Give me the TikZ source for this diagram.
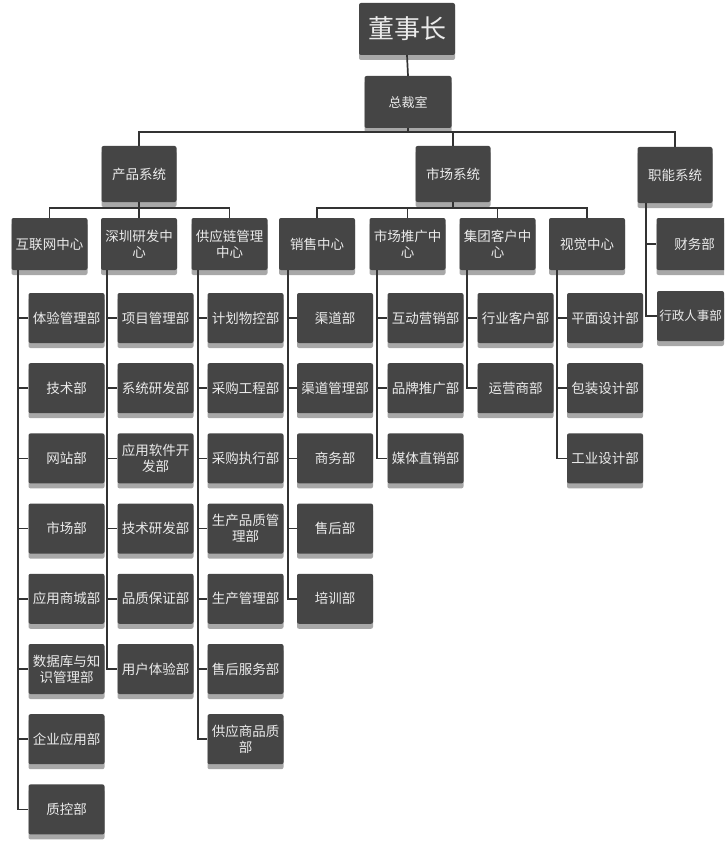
\documentclass[tikz,border=0pt]{standalone}
\usepackage{fontspec}
\newfontfamily\cjk{Noto Sans CJK SC}
\usetikzlibrary{shadows}
\definecolor{boxgray}{HTML}{454545}
\definecolor{shadowgray}{HTML}{A8A8A8}
\definecolor{linegray}{HTML}{333333}
\begin{document}
\begin{tikzpicture}[x=1pt,y=-1pt,
  box/.style={fill=boxgray, text=white!92!black, font=\cjk\fontsize{13.5}{16}\selectfont,
    align=center, inner sep=1pt, rounded corners=2pt,
    drop shadow={shadow xshift=0pt, shadow yshift=-5pt, fill=shadowgray, opacity=1}},
  ltwo/.style={box, minimum width=75pt, minimum height=56pt},
  lthree/.style={box, minimum width=76pt, minimum height=52pt},
  lfour/.style={box, minimum width=76pt, minimum height=50pt},
  link/.style={draw=linegray, line width=1.7pt}]
\useasboundingbox (0,0) rectangle (724,845);
\clip (0,0) rectangle (724,845);
\fill[white] (0,0) rectangle (724,845);

% top
\node[box, minimum width=96pt, minimum height=52pt, font=\cjk\fontsize{26}{28}\selectfont] (boss) at (407,29) {董事长};
\node[box, minimum width=87pt, minimum height=52pt, font=\cjk\fontsize{13}{15}\selectfont] (ceo) at (408,102) {总裁室};

% level 2
\node[ltwo] (prod) at (139,174) {产品系统};
\node[ltwo] (mkt) at (453,174) {市场系统};
\node[ltwo] (func) at (675,175) {职能系统};

% level 3
\node[lthree] (inet) at (49.5,244) {互联网中心};
\node[lthree] (szrd) at (139,244) {深圳研发中\\心};
\node[lthree] (scm) at (229.5,244) {供应链管理\\中心};
\node[lthree] (sales) at (317,244) {销售中心};
\node[lthree] (promo) at (407.5,244) {市场推广中\\心};
\node[lthree] (group) at (497.5,244) {集团客户中\\心};
\node[lthree] (vis) at (587,244) {视觉中心};
\node[lthree] (fin) at (694.5,244) {财务部};
\node[lfour, minimum width=67pt, font=\cjk\fontsize{12.5}{15}\selectfont] (hr) at (690.5,316) {行政人事部};

% buses
\coordinate (bus) at (408,132);
\coordinate (busp) at (139,208);
\coordinate (busm) at (453,208);
\draw[link] (boss.south) -- (ceo.north);
\draw[link] (ceo.south) -- (bus);
\draw[link] (prod.north) |- (bus) -| (func.north);
\draw[link] (mkt.north) -- (mkt.north |- bus);
\draw[link] (prod.south) -- (busp);
\draw[link] (inet.north) |- (busp) -| (scm.north);
\draw[link] (szrd.north) -- (busp);
\draw[link] (mkt.south) -- (busm);
\draw[link] (sales.north) |- (busm) -| (vis.north);
\draw[link] (promo.north) -- (promo.north |- busm);
\draw[link] (group.north) -- (group.north |- busm);
\draw[link] ([xshift=9pt]func.south west) |- (fin.west);
\draw[link] ([xshift=9pt]func.south west) |- (hr.west);

% children
\foreach \t [count=\i from 0] in {体验管理部,技术部,网站部,市场部,应用商城部,{数据库与知\\识管理部},企业应用部,质控部}{
  \node[lfour] (a\i) at (66.5,318+70.2*\i) {\t};
  \draw[link] ([xshift=7pt]inet.south west) |- (a\i.west);
}
\foreach \t [count=\i from 0] in {项目管理部,系统研发部,{应用软件开\\发部},技术研发部,品质保证部,用户体验部}{
  \node[lfour] (b\i) at (155.5,318+70.2*\i) {\t};
  \draw[link] ([xshift=6pt]szrd.south west) |- (b\i.west);
}
\foreach \t [count=\i from 0] in {计划物控部,采购工程部,采购执行部,{生产品质管\\理部},生产管理部,售后服务部,{供应商品质\\部}}{
  \node[lfour] (c\i) at (245.5,318+70.2*\i) {\t};
  \draw[link] ([xshift=7pt]scm.south west) |- (c\i.west);
}
\foreach \t [count=\i from 0] in {渠道部,渠道管理部,商务部,售后部,培训部}{
  \node[lfour] (d\i) at (335,318+70.2*\i) {\t};
  \draw[link] ([xshift=9pt]sales.south west) |- (d\i.west);
}
\foreach \t [count=\i from 0] in {互动营销部,品牌推广部,媒体直销部}{
  \node[lfour] (e\i) at (425.5,318+70.2*\i) {\t};
  \draw[link] ([xshift=8pt]promo.south west) |- (e\i.west);
}
\foreach \t [count=\i from 0] in {行业客户部,运营商部}{
  \node[lfour] (f\i) at (515.5,318+70.2*\i) {\t};
  \draw[link] ([xshift=8pt]group.south west) |- (f\i.west);
}
\foreach \t [count=\i from 0] in {平面设计部,包装设计部,工业设计部}{
  \node[lfour] (g\i) at (605,318+70.2*\i) {\t};
  \draw[link] ([xshift=8pt]vis.south west) |- (g\i.west);
}
\end{tikzpicture}
\end{document}
